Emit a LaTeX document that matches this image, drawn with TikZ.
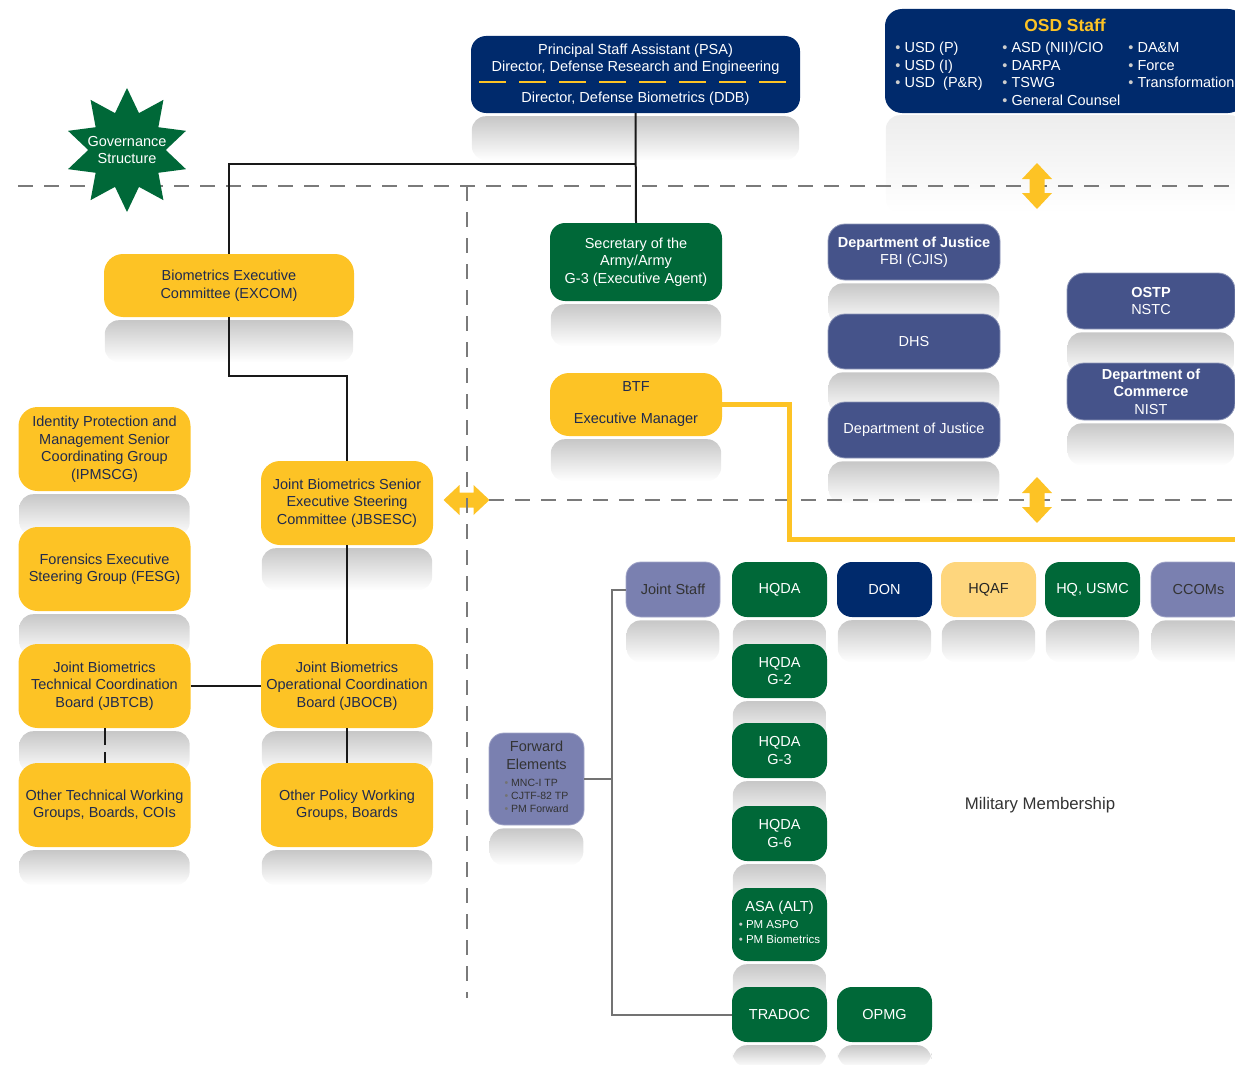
\documentclass[tikz,border=0pt]{standalone}
\usepackage{fontspec}
\setmainfont{Liberation Sans}
\usetikzlibrary{calc,backgrounds,shapes.geometric}
\definecolor{biogold}{RGB}{253,195,37}
\definecolor{armygreen}{RGB}{0,104,56}
\definecolor{osdnavy}{RGB}{0,42,108}
\definecolor{fedslate}{RGB}{69,83,138}
\definecolor{milslate}{RGB}{122,128,176}
\definecolor{afyellow}{RGB}{254,214,125}
\definecolor{inknavy}{RGB}{31,42,78}
\definecolor{dashgray}{RGB}{122,122,122}
\definecolor{bulgray}{RGB}{205,205,205}

\newcommand{\boxfont}{\fontsize{14.5}{17.5}\selectfont}
\newcommand{\osdbul}{{\color{bulgray}\textbullet}\ }
\newcommand{\fwdbul}{{\color{black!55}\textbullet}\ }

\tikzset{
    orgbox/.style={rounded corners=15pt, align=center, inner sep=1pt, font=\boxfont},
    ybox/.style={orgbox, rounded corners=19pt, fill=biogold, text=inknavy, minimum width=172pt, minimum height=84pt},
    gbox/.style={orgbox, fill=armygreen, text=white, minimum width=95pt, minimum height=55pt},
    nbox/.style={orgbox, fill=osdnavy, text=white, minimum width=95pt, minimum height=55pt},
    sbox/.style={orgbox, rounded corners=17pt, fill=fedslate, draw=white!40!fedslate, line width=0.8pt, text=white, minimum width=172pt, minimum height=56pt},
    lbox/.style={orgbox, fill=milslate, draw=white!30!milslate, line width=0.8pt, text=black!80, minimum width=95pt, minimum height=55pt},
    govstar/.style={star, star points=10, star point ratio=1.6, minimum size=124pt, inner sep=0pt, fill=armygreen},
    orgline/.style={line width=2pt, black!90},
    milline/.style={line width=2pt, black!55},
    sepline/.style={line width=2.3pt, dashgray, dash pattern=on 15pt off 11pt},
    btfline/.style={line width=5pt, biogold},
    refl/.style={top color=black!22, bottom color=white, rounded corners=14pt},
    dblarrow/.pic={\fill[biogold] (0,-23) -- (15,-7) -- (7.5,-7) -- (7.5,7) -- (15,7) -- (0,23) -- (-15,7) -- (-7.5,7) -- (-7.5,-7) -- (-15,-7) -- cycle;}
}

\begin{document}
\begin{tikzpicture}[x=1pt, y=-1pt, font=\boxfont]

    \useasboundingbox (0,0) rectangle (1235,1065);

    % Arrow between the governance side and the federal side
    \pic at (466.5,500) [rotate=90] {dblarrow};

    % Dashed separators
    \draw[sepline] (18,186) -- (1235,186);
    \draw[sepline] (489,500) -- (1235,500);
    \draw[sepline] (467,186) -- (467,998);

    \pic at (1037,186) {dblarrow};
    \pic at (1037,500) {dblarrow};

    % Governance star
    \node[govstar] (gov) at (127,150) {};
    \node[text=white, align=center] (govlabel) at (gov.center) {Governance\\Structure};

    % Top of the chain
    \node[nbox, minimum width=329pt, minimum height=77pt] (psa) at (635.5,74.5) {Principal Staff Assistant (PSA)\\Director, Defense Research and Engineering\\[13pt]Director, Defense Biometrics (DDB)};
    \draw[biogold, line width=2pt, dash pattern=on 27pt off 13pt] ($(psa.west)+(8,7.5)$) -- ($(psa.east)+(-14,7.5)$);

    \node[nbox, minimum width=360pt, minimum height=104pt, rounded corners=17pt] (osd) at (1065,61) {\rule{0pt}{19.5pt}{\fontsize{17.4}{20}\selectfont\bfseries\color{biogold}OSD Staff}\\[8pt]
        \begin{tabular}{@{}l@{}l@{}l@{}}
            \makebox[107pt][l]{\osdbul USD (P)} & \makebox[126pt][l]{\osdbul ASD (NII)/CIO} & \osdbul DA\&M\\
            \makebox[107pt][l]{\osdbul USD (I)} & \makebox[126pt][l]{\osdbul DARPA} & \osdbul Force\\
            \makebox[107pt][l]{\osdbul USD\ \ (P\&R)} & \makebox[126pt][l]{\osdbul TSWG} & \osdbul Transformation\\
            & \makebox[126pt][l]{\osdbul General Counsel} &
        \end{tabular}};

    % Governance boxes (yellow)
    \node[ybox, minimum width=250pt, minimum height=63pt] (excom) at (229,285.5) {Biometrics Executive\\Committee (EXCOM)};
    \node[ybox, minimum height=63pt] (btf) at (636,404.5) {BTF\\[14.5pt]Executive Manager};
    \node[ybox] (jbsesc) at (347,503) {Joint Biometrics Senior\\Executive Steering\\Committee (JBSESC)};
    \node[ybox] (ipmscg) at (104.5,449) {Identity Protection and\\Management Senior\\Coordinating Group\\(IPMSCG)};
    \node[ybox] (fesg) at (104.5,569) {Forensics Executive\\Steering Group (FESG)};
    \node[ybox] (jbtcb) at (104.5,686) {Joint Biometrics\\Technical Coordination\\Board (JBTCB)};
    \node[ybox] (jbocb) at (347,686) {Joint Biometrics\\Operational Coordination\\Board (JBOCB)};
    \node[ybox] (othtech) at (104.5,805) {Other Technical Working\\Groups, Boards, COIs};
    \node[ybox] (othpol) at (347,805) {Other Policy Working\\Groups, Boards};

    \node[gbox, minimum width=172pt, minimum height=78pt] (sec) at (636,262) {Secretary of the\\Army/Army\\G-3 (Executive Agent)};

    % Federal partners
    \node[sbox] (fbi) at (914,252) {\textbf{Department of Justice}\\FBI (CJIS)};
    \node[sbox, minimum height=55pt] (dhs) at (914,341.5) {DHS};
    \node[sbox] (doj) at (914,430) {Department of Justice};
    \node[sbox, minimum width=168pt] (ostp) at (1151,301) {\textbf{OSTP}\\NSTC};
    \node[sbox, minimum width=168pt, minimum height=57pt] (doc) at (1151,391.5) {\textbf{Department of}\\\textbf{Commerce}\\NIST};

    % Military membership
    \node[lbox, minimum width=94pt] (jstaff) at (673,589.5) {Joint Staff};
    \node[gbox] (hqda) at (779.5,589.5) {HQDA};
    \node[nbox] (don) at (884.5,589.5) {DON};
    \node[orgbox, fill=afyellow, text=black!85, minimum width=95pt, minimum height=55pt] (hqaf) at (988.5,589.5) {HQAF};
    \node[gbox] (usmc) at (1092.5,589.5) {HQ, USMC};
    \node[lbox] (ccoms) at (1198.5,589.5) {CCOMs};
    \node[gbox, minimum height=54pt] (gtwo) at (779.5,671) {HQDA\\G-2};
    \node[gbox] (gthree) at (779.5,750.5) {HQDA\\G-3};
    \node[gbox] (gsix) at (779.5,833.5) {HQDA\\G-6};
    \node[gbox, minimum height=73pt] (asa) at (779.5,924.5) {ASA (ALT)\\{\fontsize{11.5}{15}\selectfont\begin{tabular}[t]{@{}l@{}}\osdbul PM ASPO\\\osdbul PM Biometrics\end{tabular}}};
    \node[gbox] (tradoc) at (779.5,1014.5) {TRADOC};
    \node[gbox] (opmg) at (884.5,1014.5) {OPMG};
    \node[lbox, minimum height=92pt] (fwd) at (536.5,779) {Forward\\Elements\\{\fontsize{10.5}{13}\selectfont\begin{tabular}[t]{@{}l@{}}\fwdbul MNC-I TP\\\fwdbul CJTF-82 TP\\\fwdbul PM Forward\end{tabular}}};

    \node[text=black!80, font=\fontsize{16.8}{20}\selectfont] (milmem) at (1040,805) {Military Membership};

    % Governance connectors
    \coordinate (govsplit) at (636,164);
    \draw[orgline] (psa.south) -- (sec.north);
    \draw[orgline] (govsplit) -| (excom.north);
    \draw[orgline] (excom.south) -- ++(0,59) -| (jbsesc.north);
    \draw[orgline] (jbsesc.south) -- (jbocb.north);
    \draw[orgline] (jbtcb.east) -- (jbocb.west);
    \draw[orgline] (jbocb.south) -- (othpol.north);
    \draw[orgline, dash pattern=on 17pt off 7pt] (jbtcb.south) -- (othtech.north);

    % BTF link to the military side
    \coordinate (btfend) at (1240,539);
    \draw[btfline] (btf.east) -- ++(67,0) |- (btfend);

    % Military connectors
    \coordinate (milbus) at (612,589.5);
    \draw[milline] (jstaff.west) -- (milbus) |- (tradoc.west);
    \draw[milline] (fwd.east) -- (fwd.east -| milbus);

    % Reflections under the boxes
    \begin{scope}[on background layer]
        \clip (0,0) rectangle (1235,1065);
        \shade[refl, top color=black!7] ($(osd.south west)+(1,2)$) rectangle ($(osd.south east)+(-1,100)$);
        \foreach \n/\h in {psa/47, excom/45, sec/45, btf/45, fbi/45, dhs/45, doj/45, ostp/45, doc/45,
                jbsesc/45, ipmscg/45, fesg/45, jbtcb/45, jbocb/45, othtech/38, othpol/38,
                jstaff/45, hqda/45, don/45, hqaf/45, usmc/45, ccoms/45,
                gtwo/45, gthree/45, gsix/45, asa/45, fwd/40, tradoc/25, opmg/25} {
            \shade[refl] ($(\n.south west)+(1,3)$) rectangle ($(\n.south east)+(-1,\h)$);
        }
    \end{scope}
\end{tikzpicture}
\end{document}
